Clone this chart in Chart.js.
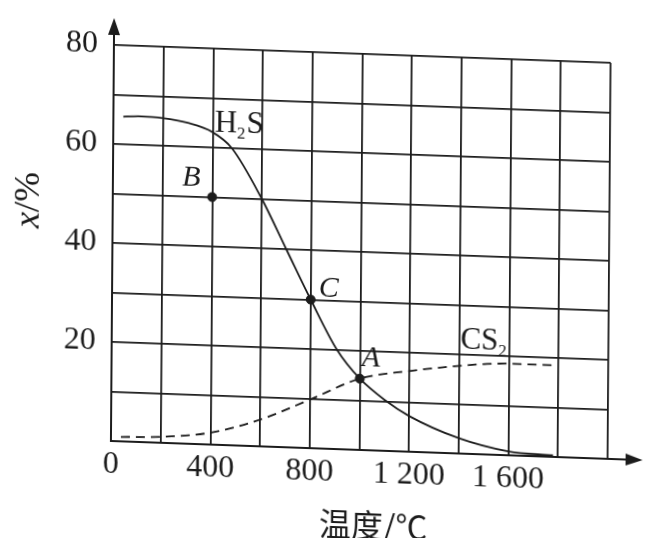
<!DOCTYPE html>
<html lang="zh">
<head>
<meta charset="UTF-8"/>
<script src="https://cdn.jsdelivr.net/npm/chart.js"></script>
<style>
    html, body { margin: 0; padding: 0; background: #fff; }
    /* the scanned figure is slightly sheared, mimic it */
    #chart { display: block; transform-origin: 111px 441px; transform: matrix(1, 0.036, -0.0076, 1, 0, 0); }
</style>
</head>
<body>
<canvas id="chart" width="645" height="538"></canvas>
<script>
// temperature (°C) and mole fraction x (%)
const h2sTemp = [40, 100, 200, 300, 400, 478, 600, 700, 800, 908, 1000, 1100, 1200, 1400, 1600, 1780];
const h2sX    = [65.6, 65.8, 65.6, 64.8, 63.1, 60, 50, 40, 30, 20, 14.4, 10.3, 7.2, 3.1, 0.8, 0.3];
const cs2Temp = [40, 200, 400, 600, 800, 1000, 1200, 1400, 1600, 1780];
const cs2X    = [0.9, 1.2, 2.4, 5.4, 9.8, 14.4, 16.3, 17.7, 18.5, 18.5];
const pointNames = ['B', 'C', 'A'];
const pointTemp  = [400, 800, 1000];
const pointX     = [50, 30, 14.4];
const xLabels = [0, 400, 800, 1200, 1600];
const yLabels = [20, 40, 60, 80];

const serif = '"Liberation Serif", "DejaVu Serif", serif';
const ink = '#1c1c1c';

const toXY = (xs, ys) => xs.map((x, i) => ({x, y: ys[i]}));
const fmt = v => v >= 1000 ? Math.floor(v / 1000) + ' ' + String(v % 1000).padStart(3, '0') : String(v);

function drawChem(ctx, parts, x, y, size) {
    parts.forEach(([t, sub]) => {
        ctx.font = (sub ? Math.round(size * 0.55) : size) + 'px ' + serif;
        ctx.fillText(t, x, sub ? y + size * 0.22 : y);
        x += ctx.measureText(t).width + (sub ? 1 : 0);
    });
}

const extras = {
    id: 'extras',
    afterDraw(chart) {
        const {ctx, chartArea: a, scales: {x, y}} = chart;
        ctx.save();
        ctx.strokeStyle = ink;
        ctx.fillStyle = ink;
        ctx.lineWidth = 2;
        // axes with arrows
        ctx.beginPath();
        ctx.moveTo(a.left, a.bottom); ctx.lineTo(a.left, 30);
        ctx.moveTo(a.left, a.bottom); ctx.lineTo(632, a.bottom);
        ctx.stroke();
        ctx.beginPath();
        ctx.moveTo(a.left, 18); ctx.lineTo(a.left - 6, 35); ctx.lineTo(a.left + 6, 35); ctx.closePath();
        ctx.moveTo(643, a.bottom); ctx.lineTo(626, a.bottom - 6); ctx.lineTo(626, a.bottom + 6); ctx.closePath();
        ctx.fill();

        // curve and point names
        ctx.textAlign = 'left';
        ctx.textBaseline = 'alphabetic';
        drawChem(ctx, [['H', false], ['2', true], ['S', false]], x.getPixelForValue(400) + 2, y.getPixelForValue(63.3), 31);
        drawChem(ctx, [['CS', false], ['2', true]], x.getPixelForValue(1400) + 1, y.getPixelForValue(21.3), 31);
        const offs = [[-21, -18], [18, -11], [11, -21]];
        ctx.font = 'italic 30px ' + serif;
        ctx.textAlign = 'center';
        ctx.textBaseline = 'middle';
        pointNames.forEach((n, i) => {
            ctx.fillText(n, x.getPixelForValue(pointTemp[i]) + offs[i][0], y.getPixelForValue(pointX[i]) + offs[i][1]);
        });

        // axis titles
        ctx.font = '32px "Noto Sans CJK SC", sans-serif';
        ctx.fillText('温度/℃', 374, 516);
        ctx.translate(28, 203);
        ctx.rotate(-Math.PI / 2);
        ctx.textAlign = 'left';
        ctx.font = 'italic 36px ' + serif;
        const w1 = ctx.measureText('x').width;
        ctx.font = '36px ' + serif;
        const w2 = ctx.measureText('/%').width;
        let sx = -(w1 + w2) / 2;
        ctx.font = 'italic 36px ' + serif;
        ctx.fillText('x', sx, 0);
        ctx.font = '36px ' + serif;
        ctx.fillText('/%', sx + w1, 0);
        ctx.restore();
    }
};

new Chart(document.getElementById('chart'), {
    type: 'line',
    data: {
        datasets: [
            {
                label: 'H2S', data: toXY(h2sTemp, h2sX),
                borderColor: ink, borderWidth: 1.8, pointRadius: 0,
                cubicInterpolationMode: 'monotone'
            },
            {
                label: 'CS2', data: toXY(cs2Temp, cs2X),
                borderColor: ink, borderWidth: 1.8, borderDash: [9, 6], pointRadius: 0,
                cubicInterpolationMode: 'monotone'
            },
            {
                type: 'scatter', label: 'points', data: toXY(pointTemp, pointX),
                pointRadius: 4.5, backgroundColor: ink, borderColor: ink
            }
        ]
    },
    options: {
        responsive: false,
        animation: false,
        devicePixelRatio: 1,
        layout: {padding: {top: 45, right: 37, left: 0, bottom: 0}},
        plugins: {legend: {display: false}, tooltip: {enabled: false}},
        scales: {
            x: {
                type: 'linear', min: 0, max: 2000,
                afterFit: s => { s.height = 97; },
                grid: {color: ink, lineWidth: 1.8, drawTicks: false},
                border: {color: ink, width: 2},
                ticks: {
                    stepSize: 200, autoSkip: false, maxRotation: 0, padding: 4,
                    color: ink, font: {family: serif, size: 32},
                    callback: v => xLabels.includes(v) ? fmt(v) : ''
                }
            },
            y: {
                type: 'linear', min: 0, max: 80,
                afterFit: s => { s.width = 111; },
                grid: {color: ink, lineWidth: 1.8, drawTicks: false},
                border: {color: ink, width: 2},
                ticks: {
                    stepSize: 10, autoSkip: false, padding: 16,
                    color: ink, font: {family: serif, size: 32},
                    callback: v => yLabels.includes(v) ? String(v) : ''
                }
            }
        }
    },
    plugins: [extras]
});
</script>
</body>
</html>
